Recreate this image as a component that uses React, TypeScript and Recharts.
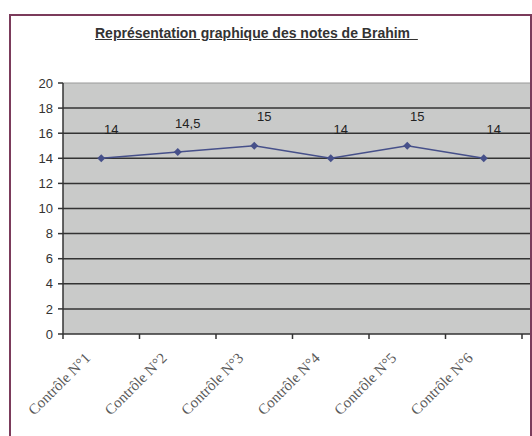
import React from "react";
import {
  LineChart,
  Line,
  XAxis,
  YAxis,
  CartesianGrid,
  ReferenceLine,
  LabelList,
} from "recharts";

const CATEGORIES = [
  "Contrôle N°1",
  "Contrôle N°2",
  "Contrôle N°3",
  "Contrôle N°4",
  "Contrôle N°5",
  "Contrôle N°6",
];
const NOTES = [14, 14.5, 15, 14, 15, 14];
const Y_TICKS = [0, 2, 4, 6, 8, 10, 12, 14, 16, 18, 20];
const GRID_VALUES = [2, 4, 6, 8, 10, 12, 14, 16, 18];

const data = CATEGORIES.map((name, i) => ({ name, note: NOTES[i] }));

const LINE_COLOR = "#46508a";
const AXIS_COLOR = "#333";

// category ticks sit on the band boundaries, label hangs below at -45deg
function XTick(props: any) {
  const { x, y, payload } = props;
  const half = payload?.offset ?? 0;
  const last = payload?.index === CATEGORIES.length - 1;
  const lx = x - 10;
  const ly = y + 25;
  return (
    <g>
      <line x1={x - half} y1={y} x2={x - half} y2={y + 5} stroke={AXIS_COLOR} strokeWidth={1.5} />
      {last && (
        <line x1={x + half} y1={y} x2={x + half} y2={y + 5} stroke={AXIS_COLOR} strokeWidth={1.5} />
      )}
      <text
        x={lx}
        y={ly}
        textAnchor="end"
        transform={`rotate(-45, ${lx}, ${ly})`}
        fontFamily="'Liberation Serif', 'Times New Roman', serif"
        fontSize={15}
        fill="#5a5a5a"
      >
        {payload.value}
      </text>
    </g>
  );
}

function Diamond(props: any) {
  const { cx, cy } = props;
  if (cx == null || cy == null) return null;
  const r = 4;
  return (
    <polygon
      points={`${cx},${cy - r} ${cx + r},${cy} ${cx},${cy + r} ${cx - r},${cy}`}
      fill={LINE_COLOR}
    />
  );
}

function NoteLabel(props: any) {
  const { x, y, value } = props;
  return (
    <text
      x={x + 10}
      y={y - 29}
      textAnchor="middle"
      dominantBaseline="central"
      fontFamily="'Liberation Sans', Arial, sans-serif"
      fontSize={13}
      fill="#222"
    >
      {String(value).replace(".", ",")}
    </text>
  );
}

export default function App() {
  return (
    <div
      style={{
        position: "fixed",
        top: 0,
        left: 0,
        width: 532,
        height: 436,
        overflow: "hidden",
        background: "#fff",
      }}
    >
      <div
        style={{
          position: "absolute",
          left: 9,
          top: 14,
          width: 519,
          height: 440,
          border: "2px solid #7b3b5b",
        }}
      />
      <div
        style={{
          position: "absolute",
          left: 95,
          top: 25,
          fontFamily: "'Liberation Sans', Arial, sans-serif",
          fontSize: 14,
          lineHeight: "16px",
          fontWeight: "bold",
          color: "#333",
          textDecoration: "underline",
          whiteSpace: "pre",
        }}
      >
        {"Représentation graphique des notes de Brahim  "}
      </div>
      <div style={{ position: "absolute", left: 0, top: 0 }}>
        <LineChart
          width={532}
          height={436}
          data={data}
          margin={{ top: 83, right: 2, left: 13, bottom: 12 }}
        >
          <CartesianGrid
            fill="#c9cac9"
            vertical={false}
            horizontalValues={GRID_VALUES}
            stroke={AXIS_COLOR}
            strokeWidth={1.5}
          />
          <ReferenceLine y={20} stroke="#999" strokeWidth={1} />
          <XAxis
            dataKey="name"
            scale="band"
            height={90}
            interval={0}
            padding={{ left: 0, right: 8 }}
            tickSize={0}
            tickMargin={0}
            tickLine={false}
            axisLine={{ stroke: AXIS_COLOR, strokeWidth: 1.5 }}
            tick={<XTick />}
          />
          <YAxis
            width={50}
            domain={[0, 20]}
            ticks={Y_TICKS}
            interval={0}
            tickSize={5}
            tickMargin={5}
            axisLine={{ stroke: AXIS_COLOR, strokeWidth: 1.5 }}
            tickLine={{ stroke: AXIS_COLOR, strokeWidth: 1.5 }}
            tick={{
              fill: "#333",
              fontSize: 13,
              fontFamily: "'Liberation Sans', Arial, sans-serif",
            }}
          />
          <Line
            type="linear"
            dataKey="note"
            stroke={LINE_COLOR}
            strokeWidth={1.5}
            dot={<Diamond />}
            activeDot={false}
            isAnimationActive={false}
          >
            <LabelList dataKey="note" content={<NoteLabel />} />
          </Line>
        </LineChart>
      </div>
    </div>
  );
}
